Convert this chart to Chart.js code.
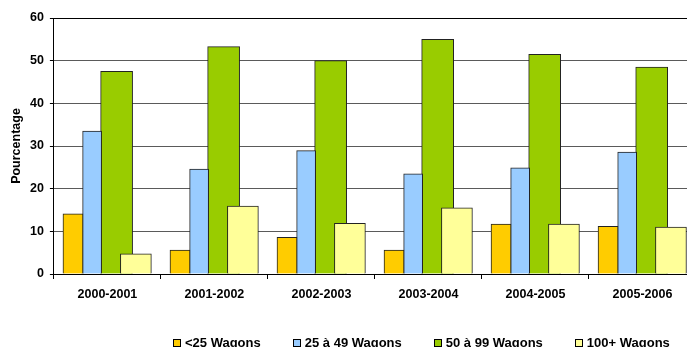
<!DOCTYPE html>
<html>
<head>
<meta charset="utf-8">
<script src="https://cdn.jsdelivr.net/npm/chart.js@4.4.1/dist/chart.umd.min.js"></script>
<style>
    body { margin: 0; background: #fff; overflow: hidden; }
    #wrap { position: relative; width: 697px; height: 347px; }
    #legend {
        position: absolute; left: 173px; top: 335px;
        font: bold 13px "Liberation Sans", Arial, sans-serif;
        line-height: 15px; white-space: nowrap; display: flex;
    }
    #legend span.item { display: inline-flex; align-items: center; margin-right: 32px; }
    #legend span.box {
        display: inline-block; width: 6px; height: 6px;
        border: 1px solid #000; margin-right: 4px;
    }
</style>
</head>
<body>
<div id="wrap">
    <canvas id="wagonChart"></canvas>
    <div id="legend"></div>
</div>
<script>
// Categories (seasons)
let seasons = ["2000-2001", "2001-2002", "2002-2003", "2003-2004", "2004-2005", "2005-2006"];

// Percentage of shipments by train size
let under25 = [14.1, 5.6, 8.6, 5.6, 11.7, 11.2];
let from25to49 = [33.5, 24.6, 28.9, 23.5, 24.9, 28.6];
let from50to99 = [47.5, 53.3, 50.0, 55.0, 51.5, 48.5];
let over100 = [4.7, 15.9, 11.9, 15.5, 11.7, 11.0];

let seriesNames = ["<25 Wagons", "25 à 49 Wagons", "50 à 99 Wagons", "100+ Wagons"];
let yTicks = [0, 10, 20, 30, 40, 50, 60];

let fontFamily = '"Liberation Sans", Arial, sans-serif';

// bar placement inside each category (fraction of category width) and thickness in px
let seriesStyle = [
    { color: "#FFCC00", offset: -0.322, thickness: 20, order: 1 },
    { color: "#99CCFF", offset: -0.143, thickness: 19, order: 1 },
    { color: "#99CC00", offset: 0.086, thickness: 32, order: 1 },
    { color: "#FFFF99", offset: 0.266, thickness: 31, order: 0 } // drawn over the green bar
];

let toPoints = (values, offset) => values.map((v, i) => ({ x: i + offset, y: v }));

let datasets = [under25, from25to49, from50to99, over100].map((values, k) => ({
    label: seriesNames[k],
    data: toPoints(values, seriesStyle[k].offset),
    backgroundColor: seriesStyle[k].color,
    borderColor: "#222",
    borderWidth: 1,
    barThickness: seriesStyle[k].thickness,
    grouped: false,
    order: seriesStyle[k].order,
    xAxisID: "x",
    yAxisID: "y"
}));

let context = document.getElementById("wagonChart").getContext("2d");
window.wagonChart = new Chart(context, {
    type: "bar",
    data: { datasets: datasets },
    options: {
        responsive: true,
        maintainAspectRatio: false,
        animation: false,
        layout: { padding: { left: 5, right: 1, top: 18, bottom: 37 } },
        plugins: {
            legend: { display: false },
            tooltip: { enabled: false }
        },
        scales: {
            x: {
                type: "linear",
                min: -0.5,
                max: seasons.length - 0.5,
                offset: false,
                display: false
            },
            xc: {
                type: "category",
                position: "bottom",
                labels: seasons,
                offset: true,
                grid: { offset: true, drawOnChartArea: false, tickLength: 5, color: "#000" },
                border: { display: true, color: "#000", width: 1 },
                ticks: { color: "#000", padding: 8, font: { family: fontFamily, size: 12.5, weight: "bold" } }
            },
            y: {
                min: 0,
                max: 60,
                afterBuildTicks: (axis) => { axis.ticks = yTicks.map(v => ({ value: v })); },
                grid: {
                    color: (c) => c.tick && c.tick.value === 60 ? "#000" : "#5a5a5a",
                    tickColor: "#000",
                    tickLength: 4
                },
                border: { display: true, color: "#000", width: 1 },
                ticks: { color: "#000", padding: 6, font: { family: fontFamily, size: 12.5, weight: "bold" } },
                title: {
                    display: true,
                    text: "Pourcentage",
                    color: "#000",
                    padding: { top: 4, bottom: 0 },
                    font: { family: fontFamily, size: 12.5, weight: "bold" }
                }
            }
        }
    }
});

// Legend drawn as HTML text below the chart
let legendDiv = document.getElementById("legend");
seriesNames.forEach((name, k) => {
    let item = document.createElement("span");
    item.className = "item";
    let box = document.createElement("span");
    box.className = "box";
    box.style.background = seriesStyle[k].color;
    item.appendChild(box);
    item.appendChild(document.createTextNode(name));
    legendDiv.appendChild(item);
});
</script>
</body>
</html>
